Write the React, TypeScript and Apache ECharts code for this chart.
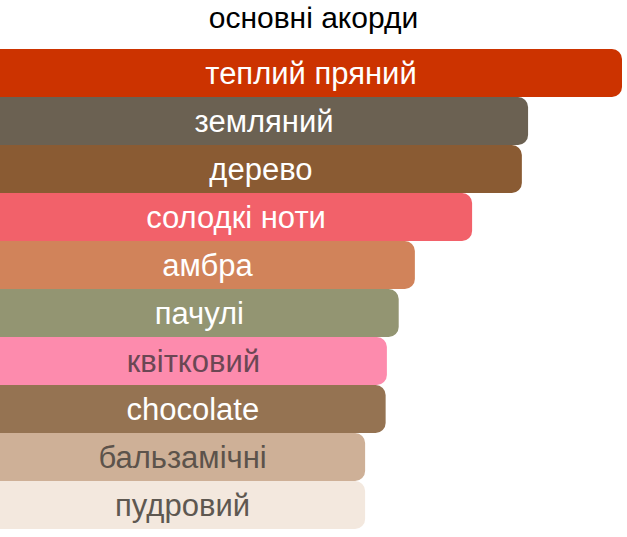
import { useEffect, useRef } from "react";
import * as echarts from "echarts";

// accords, top to bottom
const accords = [
  "теплий пряний",
  "земляний",
  "дерево",
  "солодкі ноти",
  "амбра",
  "пачулі",
  "квітковий",
  "chocolate",
  "бальзамічні",
  "пудровий",
];
const strengths = [100, 84.9, 83.9, 75.9, 66.7, 64.1, 62.2, 62.0, 58.7, 58.7];
const barColors = [
  "#cc3300",
  "#6b6152",
  "#8a5b33",
  "#f2616a",
  "#d1835a",
  "#939572",
  "#fd8bad",
  "#957352",
  "#ceb097",
  "#f3e8de",
];
const labelColors = [
  "#ffffff",
  "#ffffff",
  "#ffffff",
  "#ffffff",
  "#ffffff",
  "#ffffff",
  "#6b4754",
  "#ffffff",
  "#5c534b",
  "#5e5851",
];

export default function App() {
  const chartRef = useRef<HTMLDivElement>(null);

  useEffect(() => {
    document.body.style.margin = "0";
    if (!chartRef.current) return;
    const chart = echarts.init(chartRef.current, null, { renderer: "svg" });

    chart.setOption({
      animation: false,
      title: {
        text: "основні акорди",
        left: "center",
        top: -3,
        textStyle: {
          fontFamily: "Liberation Sans, Arial, sans-serif",
          fontSize: 30,
          fontWeight: "normal",
          color: "#000000",
        },
      },
      grid: { left: 0, right: 5, top: 49, bottom: 8 },
      xAxis: { type: "value", min: 0, max: 100, show: false },
      yAxis: {
        type: "category",
        data: accords,
        inverse: true,
        show: false,
      },
      series: [
        {
          type: "bar",
          barCategoryGap: 0,
          data: strengths.map((v, i) => ({
            value: v,
            itemStyle: { color: barColors[i] },
            label: { color: labelColors[i] },
          })),
          itemStyle: { borderRadius: [0, 10, 10, 0] },
          label: {
            show: true,
            position: "inside",
            formatter: (p: { name: string }) => p.name,
            fontFamily: "Liberation Sans, Arial, sans-serif",
            fontSize: 31,
          },
        },
      ],
    });

    return () => {
      chart.dispose();
    };
  }, []);

  return <div ref={chartRef} style={{ width: 627, height: 537 }} />;
}
